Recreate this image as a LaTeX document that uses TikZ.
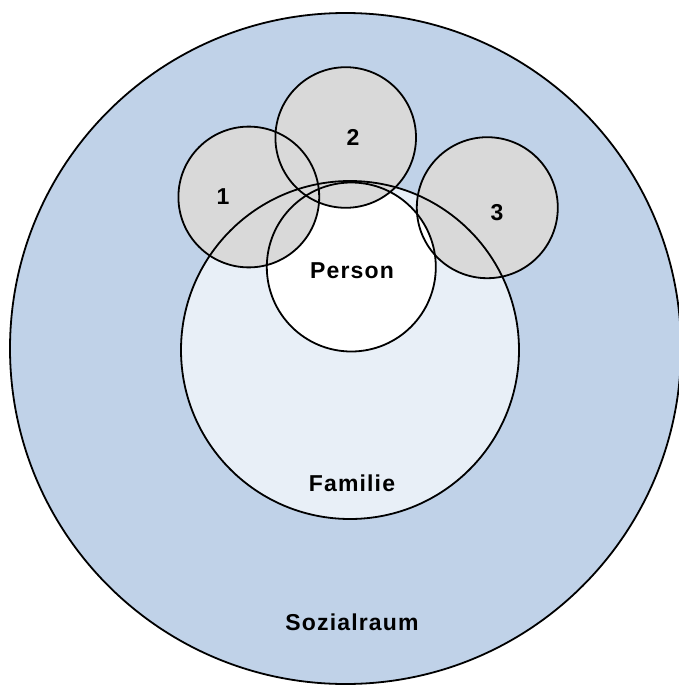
\documentclass[tikz,border=0pt]{standalone}
\usepackage{fontspec}
\setmainfont{Liberation Sans}
\newfontfamily\lblfont[LetterSpace=5]{Liberation Sans}
\definecolor{raumblue}{RGB}{192,210,232}
\definecolor{famblue}{RGB}{232,239,247}
\definecolor{ringgray}{RGB}{217,217,217}
\begin{document}
\begin{tikzpicture}[x=1pt,y=-1pt,
  outline/.style={draw=black, line width=1.8pt},
  lbl/.style={font=\lblfont\fontsize{23}{26}\selectfont\bfseries, inner sep=0pt}]
\useasboundingbox (0,0) rectangle (679,685);
\fill[white] (0,0) rectangle (679,685);
\begin{scope}
\clip (0,0) rectangle (679,685);
% fills
\fill[raumblue] (345.5,348.5) circle[radius=335.5];
\fill[famblue] (350,350) circle[radius=169];
\fill[ringgray] (487.3,207.7) circle[radius=70.5];
\fill[white] (351.3,267) circle[radius=84.5];
\fill[ringgray] (248.8,197) circle[radius=70.4];
\fill[ringgray] (345.7,137.5) circle[radius=70.3];
% outlines
\draw[outline] (345.5,348.5) circle[radius=335.5];
\draw[outline] (350,350) circle[radius=169];
\draw[outline] (351.3,267) circle[radius=84.5];
\draw[outline] (248.8,197) circle[radius=70.4];
\draw[outline] (345.7,137.5) circle[radius=70.3];
\draw[outline] (487.3,207.7) circle[radius=70.5];
\end{scope}
% labels
\node[lbl] (person) at (352,271) {Person};
\node[lbl] (familie) at (352,483) {Familie};
\node[lbl] (sozial) at (352,622) {Sozialraum};
\node[lbl] (one) at (223,197) {1};
\node[lbl] (two) at (353,137) {2};
\node[lbl] (three) at (497,213) {3};
\end{tikzpicture}
\end{document}
